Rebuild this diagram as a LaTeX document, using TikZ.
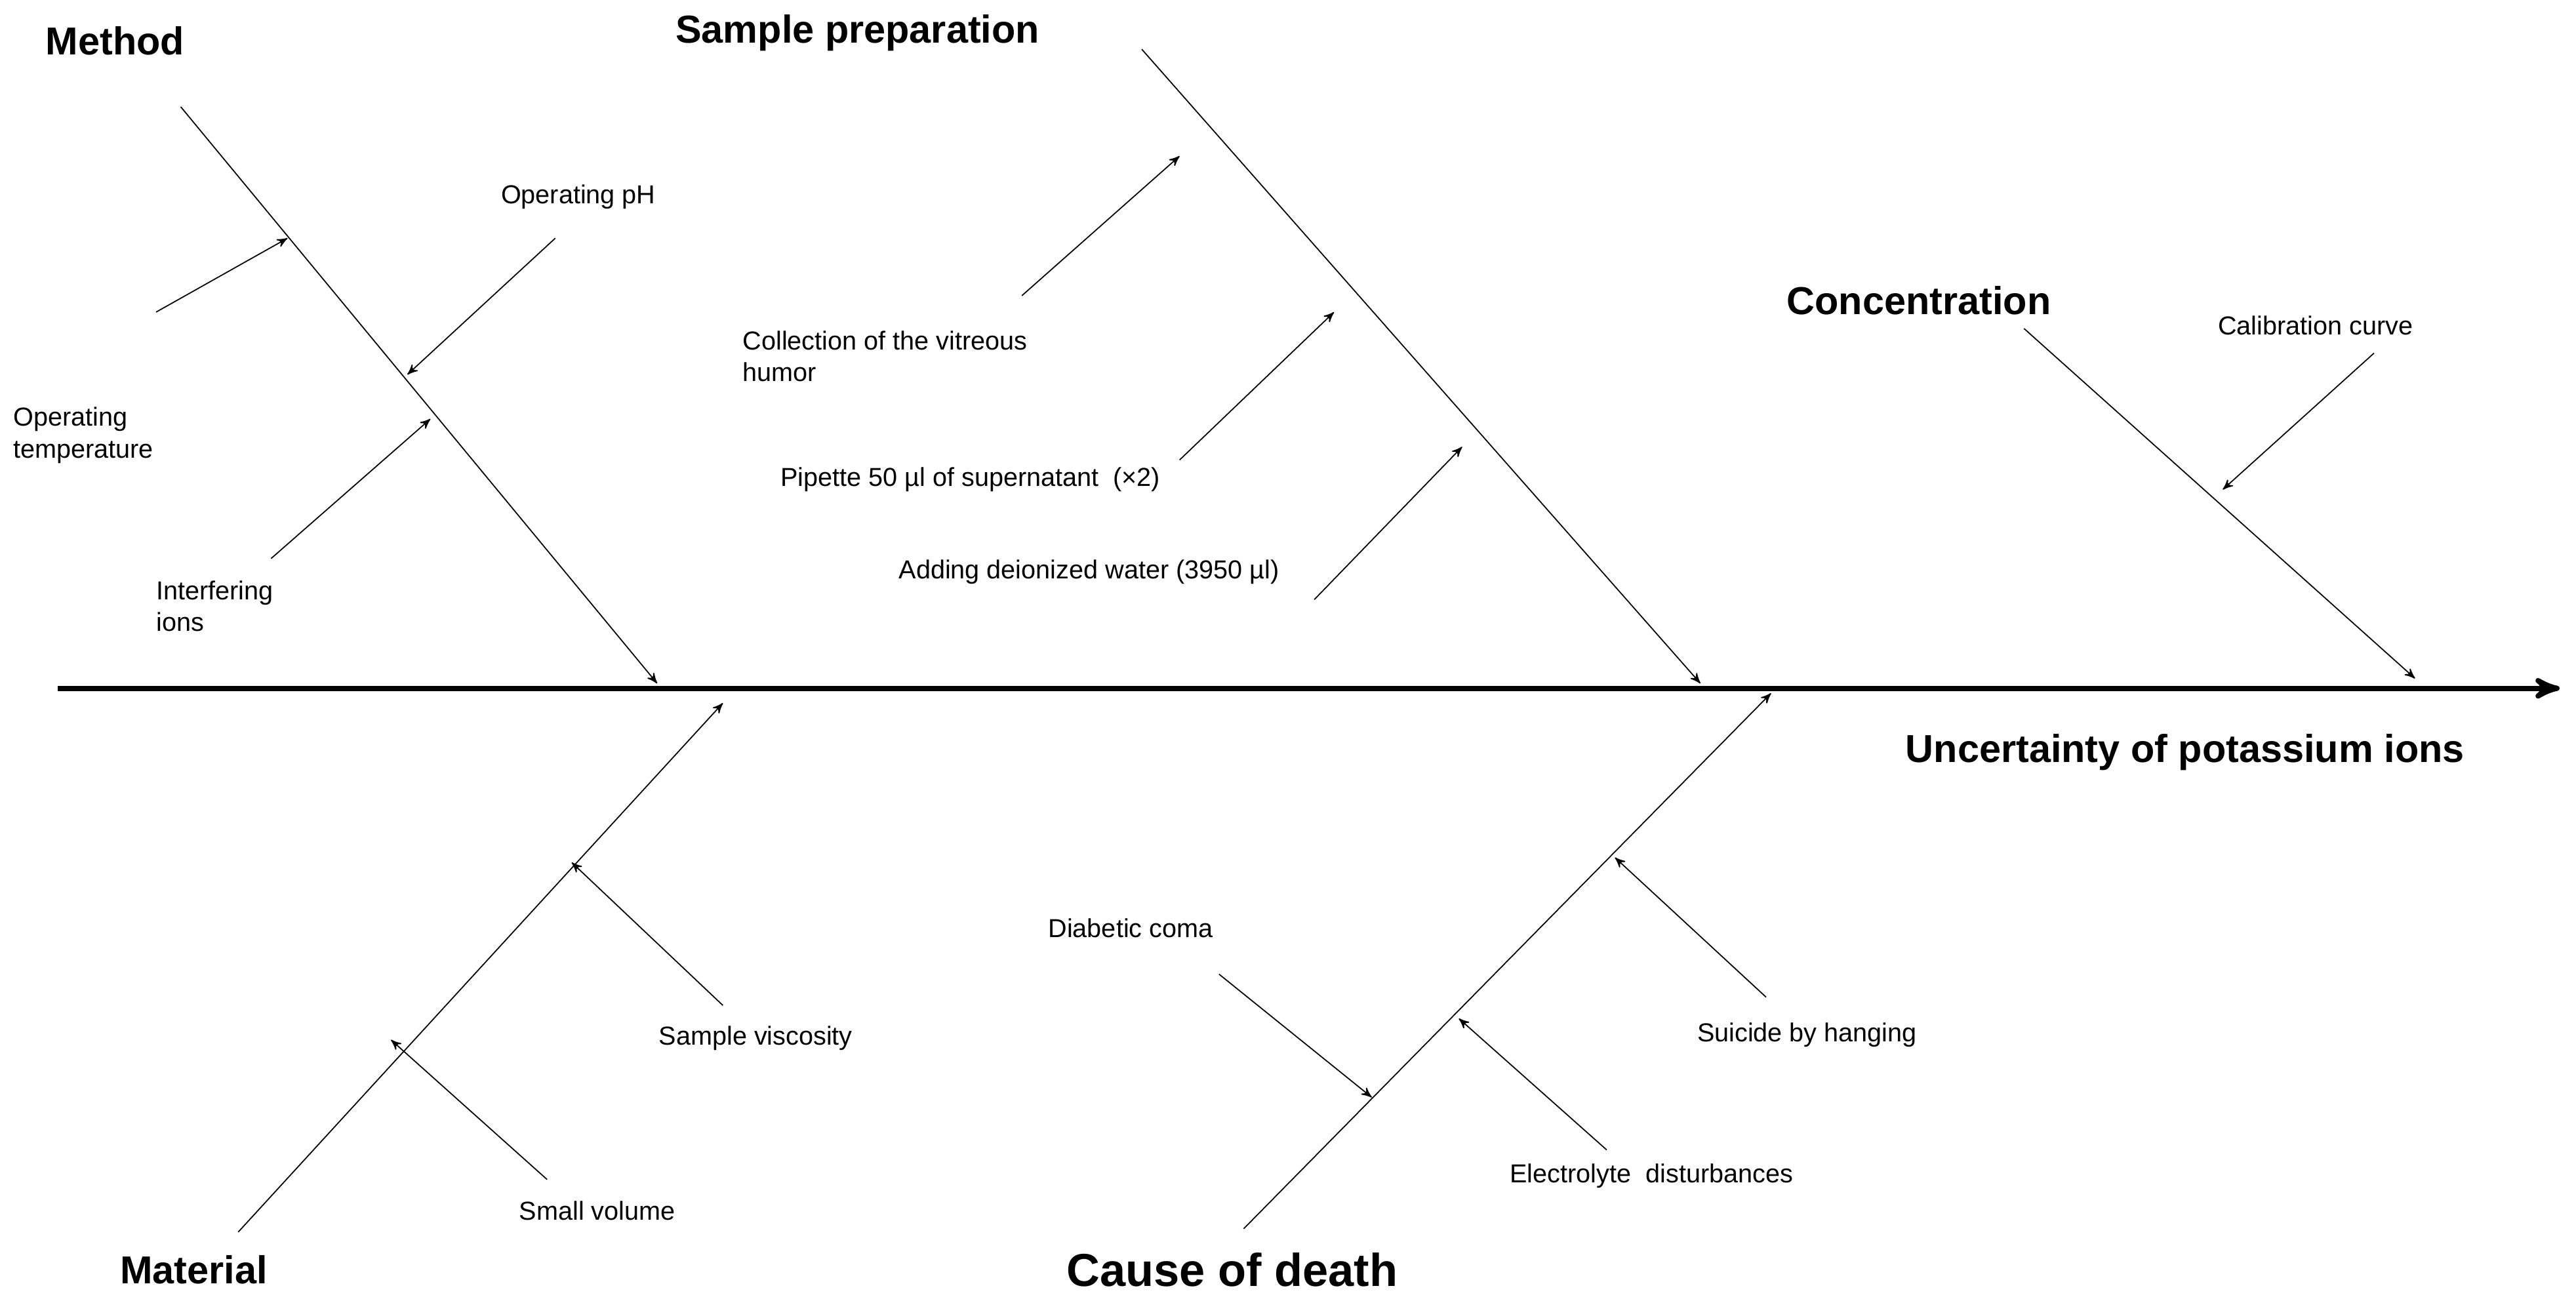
\documentclass[tikz,border=0pt]{standalone}
\usepackage{fontspec}
\setmainfont{Liberation Sans}
\usetikzlibrary{arrows}

\begin{document}
\begin{tikzpicture}[x=0.02cm, y=-0.02cm, >=stealth',
    cause/.style={font=\fontsize{9}{11}\selectfont, align=left, inner sep=1pt},
    group/.style={font=\fontsize{13.5}{16}\selectfont\bfseries, inner sep=1pt},
    bone/.style={thin},
    sub/.style={->, thin}]
    \useasboundingbox (0,0) rectangle (1568,793);

    % Spine
    \coordinate (tail) at (35,419);
    \coordinate (head) at (1558,419);
    \path [->, line width=1.8pt] (tail) edge (head);

    % Bone ends
    \coordinate (m1) at (110,65);   \coordinate (m2) at (400,416);
    \coordinate (s1) at (695,30);   \coordinate (s2) at (1035,416);
    \coordinate (c1) at (1232,200); \coordinate (c2) at (1470,413);
    \coordinate (a1) at (145,750);  \coordinate (a2) at (440,428);
    \coordinate (d1) at (757,748);  \coordinate (d2) at (1078,422);
    \path [->] (m1) edge (m2);
    \path [->] (s1) edge (s2);
    \path [->] (c1) edge (c2);
    \path [->] (a1) edge (a2);
    \path [->] (d1) edge (d2);

    % Group labels
    \node [group] (method)   at (70,25)    {Method};
    \node [group] (prep)     at (522,20)   {Sample preparation};
    \node [group] (conc)     at (1168,183) {Concentration};
    \node [group] (unc)      at (1330,458) {Uncertainty of potassium ions};
    \node [group] (material) at (118,773)  {Material};
    \node [group, font=\fontsize{16}{19}\selectfont\bfseries] (death) at (750,773) {Cause of death};

    % Causes
    \node [cause, anchor=west] (temp)  at (6,265)    {Operating\\temperature};
    \node [cause] (ph)                 at (352,120)  {Operating pH};
    \node [cause, anchor=west] (ions)  at (93,369)   {Interfering\\ions};
    \node [cause, anchor=west] (coll)  at (450,217)  {Collection of the vitreous\\humor};
    \node [cause, anchor=west] (pip)   at (473,292)  {Pipette 50 µl of supernatant\ \ (×2)};
    \node [cause, anchor=west] (water) at (545,348)  {Adding deionized water (3950 µl)};
    \node [cause, anchor=west] (calib) at (1348,198) {Calibration curve};
    \node [cause, anchor=west] (visc)  at (399,632)  {Sample viscosity};
    \node [cause, anchor=west] (vol)   at (314,737)  {Small volume};
    \node [cause, anchor=west] (coma)  at (636,565)  {Diabetic coma};
    \node [cause, anchor=west] (elec)  at (917,716)  {Electrolyte\ \ disturbances};
    \node [cause, anchor=west] (hang)  at (1031,630) {Suicide by hanging};

    % Sub-cause arrows
    \coordinate (t0) at (95,190);   \coordinate (t1) at (175,145);
    \coordinate (p0) at (338,145);  \coordinate (p1) at (248,228);
    \coordinate (i0) at (165,340);  \coordinate (i1) at (262,255);
    \coordinate (k0) at (622,180);  \coordinate (k1) at (718,95);
    \coordinate (q0) at (718,280);  \coordinate (q1) at (812,190);
    \coordinate (w0) at (800,365);  \coordinate (w1) at (890,272);
    \coordinate (b0) at (1445,215); \coordinate (b1) at (1353,298);
    \coordinate (v0) at (440,612);  \coordinate (v1) at (348,525);
    \coordinate (l0) at (333,718);  \coordinate (l1) at (238,633);
    \coordinate (g0) at (742,593);  \coordinate (g1) at (835,668);
    \coordinate (e0) at (978,700);  \coordinate (e1) at (888,620);
    \coordinate (h0) at (1075,607); \coordinate (h1) at (983,522);
    \foreach \s in {t,p,i,k,q,w,b,v,l,g,e,h}
        \path [sub] (\s0) edge (\s1);

\end{tikzpicture}
\end{document}
